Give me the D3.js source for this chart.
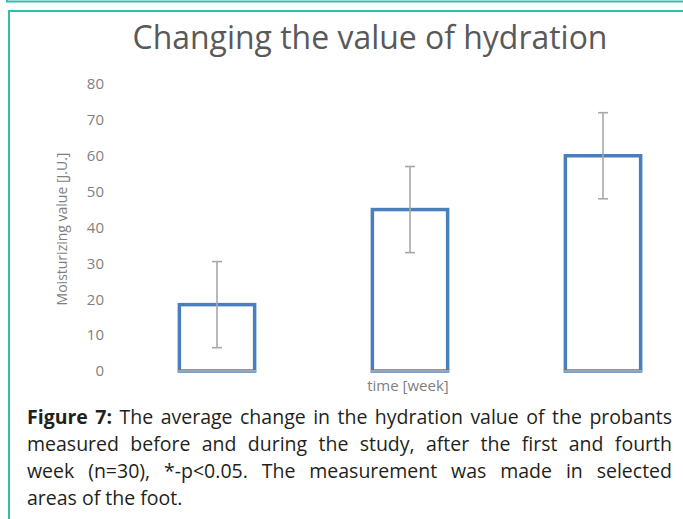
<!DOCTYPE html>
<html>
<head>
<meta charset="utf-8">
<script src="https://cdn.jsdelivr.net/npm/d3@7"></script>
<style>
  body { margin: 0; background: #fff; }
  svg { display: block; }
</style>
</head>
<body>
<script>
// chart values
var weeks = ["before", "week 1", "week 4"];
var meanValues = [18.5, 45, 60];
var sdValues = [12, 12, 12];
var yTicks = [0, 10, 20, 30, 40, 50, 60, 70, 80];

var titleText = "Changing the value of hydration";
var yLabelText = "Moisturizing value [J.U.]";
var xLabelText = "time [week]";
var captionLines = [
  [["Figure 7:", true], ["The average change in the hydration value of the probants", false]],
  [["measured before and during the study, after the first and fourth", false]],
  [["week (n=30), *-p<0.05. The measurement was made in selected", false]],
  [["areas of the foot.", false]]
];

var width = 683, height = 519;
var teal = "#2fbfa9", barBlue = "#4a7fbd", errGrey = "#a8a8a8", labelGrey = "#7f7f7f";
var font = "'Open Sans', sans-serif";

var svg = d3.select("body").append("svg")
    .attr("width", width)
    .attr("height", height);

// frames (bottom of the previous box, and this one)
svg.append("path")
    .attr("d", "M7,0V1.5H" + width)
    .attr("fill", "none")
    .attr("stroke", teal)
    .attr("stroke-width", 2);
svg.append("path")
    .attr("d", "M9," + height + "V11H" + width)
    .attr("fill", "none")
    .attr("stroke", teal)
    .attr("stroke-width", 2);

// title
var title = svg.append("text")
    .attr("x", 370)
    .attr("y", 49)
    .attr("text-anchor", "middle")
    .style("font-family", font)
    .style("font-size", "27px")
    .attr("fill", "#595959")
    .text(titleText);
var tw = title.node().getComputedTextLength();
title.style("font-size", (27 * 475 / tw) + "px");

var y = d3.scaleLinear().domain([0, 80]).range([371, 84]);
var x = d3.scaleBand().domain(weeks).range([120.5, 699.5])
    .paddingInner(0.61).paddingOuter(0.305);

// y axis
var yAxis = svg.append("g")
    .attr("transform", "translate(110,0)")
    .call(d3.axisLeft(y).tickValues(yTicks).tickSize(0).tickPadding(6));
yAxis.select(".domain").remove();
yAxis.selectAll("text")
    .style("font-family", font)
    .style("font-size", "15px")
    .attr("fill", labelGrey);

svg.append("text")
    .attr("transform", "translate(67,229) rotate(-90)")
    .attr("text-anchor", "middle")
    .style("font-family", font)
    .style("font-size", "14px")
    .attr("fill", labelGrey)
    .text(yLabelText);

// bars
var bars = svg.append("g");
weeks.forEach(function(w, i) {
    bars.append("rect")
        .attr("x", x(w))
        .attr("y", y(meanValues[i]))
        .attr("width", x.bandwidth())
        .attr("height", y(0) - y(meanValues[i]))
        .attr("fill", "#fff")
        .attr("stroke", barBlue)
        .attr("stroke-width", 3.5);
    bars.append("line")
        .attr("x1", x(w) - 1.5)
        .attr("x2", x(w) + x.bandwidth() + 1.5)
        .attr("y1", y(0))
        .attr("y2", y(0))
        .attr("stroke", "#9aa7b3")
        .attr("stroke-width", 2);
});

// error bars
var errs = svg.append("g")
    .attr("stroke", errGrey)
    .attr("stroke-width", 1.6);
weeks.forEach(function(w, i) {
    var cx = x(w) + x.bandwidth() / 2;
    var hi = y(meanValues[i] + sdValues[i]), lo = y(meanValues[i] - sdValues[i]);
    errs.append("line").attr("x1", cx).attr("x2", cx).attr("y1", hi).attr("y2", lo);
    errs.append("line").attr("x1", cx - 5).attr("x2", cx + 5).attr("y1", hi).attr("y2", hi);
    errs.append("line").attr("x1", cx - 5).attr("x2", cx + 5).attr("y1", lo).attr("y2", lo);
});

svg.append("text")
    .attr("x", 408)
    .attr("y", 391)
    .attr("text-anchor", "middle")
    .style("font-family", font)
    .style("font-size", "15px")
    .attr("fill", labelGrey)
    .text(xLabelText);

// caption, justified by hand
var capLeft = 27, capRight = 672, capSize = 19.5;
captionLines.forEach(function(line, li) {
    var words = [];
    line.forEach(function(part) {
        part[0].split(" ").forEach(function(wd) { words.push([wd, part[1]]); });
    });
    var g = svg.append("g");
    var nodes = words.map(function(wd) {
        return g.append("text")
            .attr("y", 424 + li * 27)
            .style("font-family", font)
            .style("font-size", capSize + "px")
            .style("font-weight", wd[1] ? "bold" : "normal")
            .attr("fill", "#231f20")
            .text(wd[0]);
    });
    var widths = nodes.map(function(n) { return n.node().getComputedTextLength(); });
    var total = d3.sum(widths);
    var gap = li < captionLines.length - 1
        ? (capRight - capLeft - total) / (words.length - 1)
        : capSize * 0.26;
    var pos = capLeft;
    nodes.forEach(function(n, k) {
        n.attr("x", pos);
        pos += widths[k] + gap;
    });
});
</script>
</body>
</html>
